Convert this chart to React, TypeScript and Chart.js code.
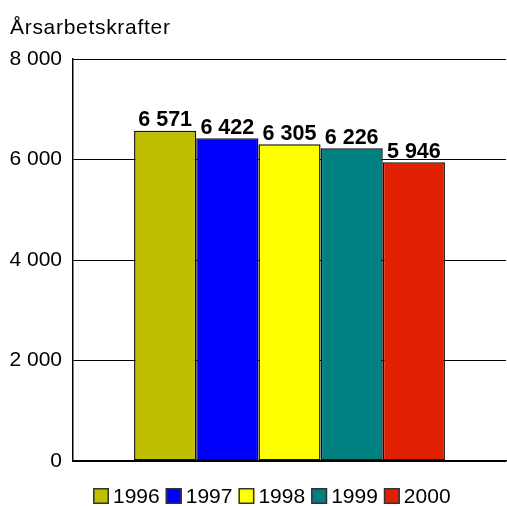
import React, { useEffect, useRef } from "react";
import { Chart, registerables } from "chart.js";

Chart.register(...registerables);

const FONT = "'Liberation Sans', Arial, Helvetica, sans-serif";

const title = "Årsarbetskrafter";
const years = ["1996", "1997", "1998", "1999", "2000"];
const values = [6571, 6422, 6305, 6226, 5946];
const colors = ["#BFBF00", "#0000FF", "#FFFF00", "#008080", "#E02000"];
const yTicks = [0, 2000, 4000, 6000, 8000];

const fmt = (v: number) => String(v).replace(/\B(?=(\d{3})+(?!\d))/g, " ");

const overlayPlugin = {
  id: "overlay",
  afterDatasetsDraw(chart: any) {
    const ctx = chart.ctx as CanvasRenderingContext2D;
    ctx.save();
    ctx.fillStyle = "#000";
    // value labels
    ctx.font = `bold 21.5px ${FONT}`;
    ctx.textAlign = "center";
    ctx.textBaseline = "alphabetic";
    chart.data.datasets.forEach((ds: any, i: number) => {
      const meta = chart.getDatasetMeta(i);
      meta.data.forEach((el: any, j: number) => {
        ctx.fillText(fmt(ds.data[j]), el.x, el.y - 4.5);
      });
    });
    // title
    ctx.textAlign = "left";
    ctx.font = `21px ${FONT}`;
    (ctx as any).letterSpacing = "0.7px";
    ctx.fillText(title, 10, 34);
    (ctx as any).letterSpacing = "0px";
    // legend
    ctx.font = `21px ${FONT}`;
    const box = 16;
    const gap = 4;
    const itemGap = 6;
    const widths = chart.data.datasets.map((ds: any) => ctx.measureText(ds.label).width);
    let x = 93;
    const top = 488;
    chart.data.datasets.forEach((ds: any, i: number) => {
      ctx.fillStyle = ds.backgroundColor;
      ctx.fillRect(x, top, box, box);
      ctx.strokeStyle = "#333";
      ctx.lineWidth = 1.5;
      ctx.strokeRect(x + 0.75, top + 0.75, box - 1.5, box - 1.5);
      ctx.fillStyle = "#000";
      ctx.fillText(ds.label, x + box + gap, 503);
      x += box + gap + widths[i] + itemGap;
    });
    ctx.restore();
  },
};

export default function App() {
  const ref = useRef<HTMLCanvasElement>(null);
  useEffect(() => {
    if (!ref.current) return;
    const chart = new Chart(ref.current, {
      type: "bar",
      data: {
        labels: [""],
        datasets: years.map((y, i) => ({
          label: y,
          data: [values[i]],
          backgroundColor: colors[i],
          borderColor: "#111",
          borderWidth: 1.5,
          borderSkipped: false,
          categoryPercentage: 0.718,
          barPercentage: 1,
        })),
      },
      options: {
        animation: false,
        responsive: false,
        devicePixelRatio: 1,
        layout: { padding: { top: 59, bottom: 45, left: 0, right: 1 } },
        plugins: {
          legend: { display: false },
          title: { display: false },
          tooltip: { enabled: false },
        },
        scales: {
          x: {
            grid: { display: false, drawTicks: false },
            border: { display: true, color: "#000", width: 1.5 },
            ticks: { display: false },
            afterFit: (s: any) => {
              s.height = 0;
            },
          },
          y: {
            min: 0,
            max: 8000,
            afterBuildTicks: (s: any) => {
              s.ticks = yTicks.map((v) => ({ value: v }));
            },
            ticks: {
              padding: 11,
              color: "#000",
              font: { family: FONT, size: 21 },
              callback: (v: any) => fmt(Number(v)),
            },
            grid: { color: "#000", lineWidth: 1, drawTicks: false },
            border: { display: true, color: "#000", width: 1.5 },
            afterFit: (s: any) => {
              s.width = 73;
            },
          },
        },
      },
      plugins: [overlayPlugin],
    });
    return () => chart.destroy();
  }, []);
  return (
    <div style={{ position: "fixed", left: 0, top: 0, width: 507, height: 506, background: "#fff" }}>
      <canvas ref={ref} width={507} height={506} style={{ display: "block" }} />
    </div>
  );
}
